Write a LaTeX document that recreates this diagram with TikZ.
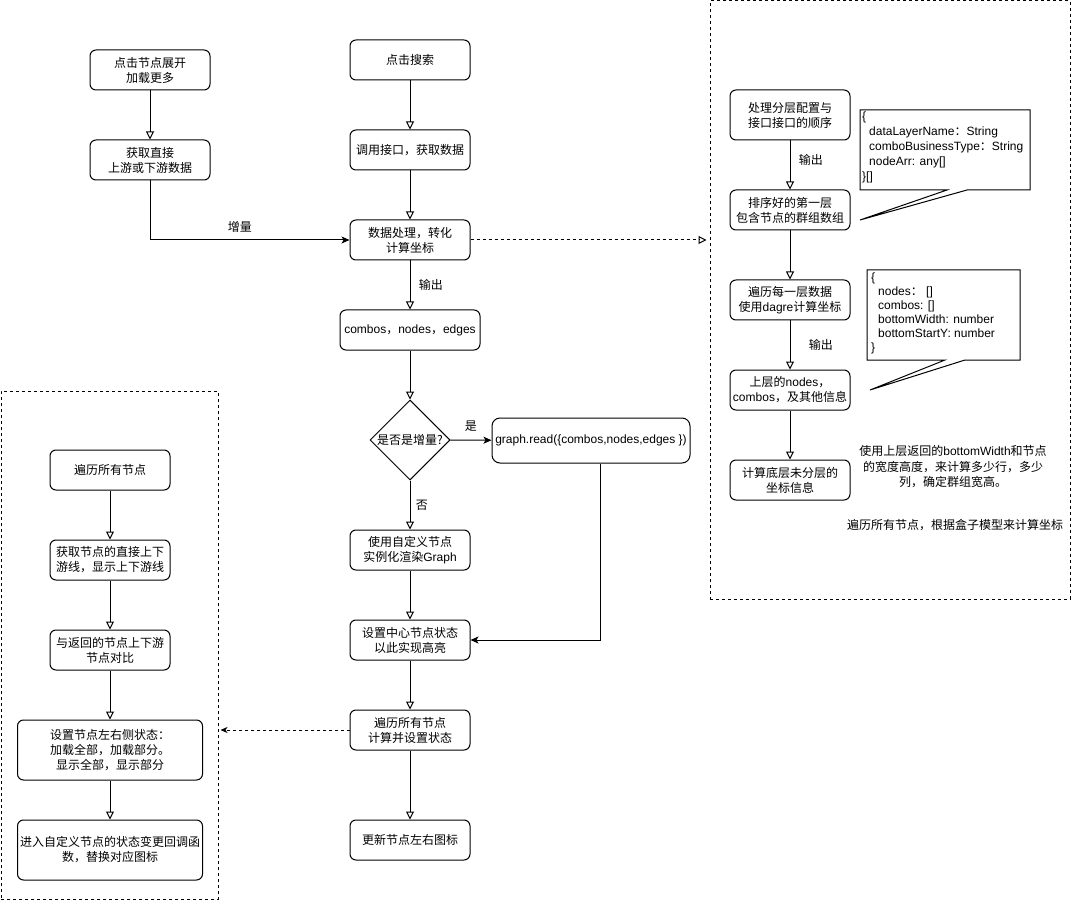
\documentclass[tikz,border=0pt]{standalone}
\usepackage{fontspec}
\setmainfont{Noto Sans CJK SC}
\newfontfamily\en{Liberation Sans}
\newfontfamily\zh{Noto Sans CJK SC}
\usetikzlibrary{arrows.meta,shapes.geometric}

\begin{document}
\begin{tikzpicture}[x=1pt, y=-1pt,
    every node/.style={font=\fontsize{12}{15}\selectfont},
    box/.style={draw, line width=1pt, rounded corners=6pt, minimum width=120pt, minimum height=40pt, align=center, inner sep=1pt},
    decision/.style={draw, diamond, line width=1pt, minimum width=80pt, minimum height=80pt, inner sep=0pt},
    group/.style={draw, line width=1pt, dash pattern=on 3pt off 3pt},
    flow/.style={line width=1pt, -{Triangle[open, length=8pt, width=8pt]}},
    link/.style={line width=1pt, -{Stealth[length=8pt, width=7pt, inset=2pt]}},
    hint/.style={line width=1pt, dash pattern=on 3pt off 3pt}]
    \useasboundingbox (0,0) rectangle (1071,901);

    \node[group, minimum width=217pt, minimum height=508pt] (lc) at (109.5,645) {};
    \node[group, minimum width=360pt, minimum height=598pt] (rc) at (890,300) {};

    \node[box] (e1) at (150,70) {点击节点展开\\加载更多};

    \node[box] (e2) at (150,160) {获取直接\\上游或下游数据};
    \draw[flow] (e1) -- (e2);

    \node[box] (s1) at (410,60) {点击搜索};

    \node[box] (s2) at (410,150) {调用接口，获取数据};
    \draw[flow] (s1) -- (s2);

    \node[box] (s3) at (410,240) {数据处理，转化\\计算坐标};
    \draw[flow] (s2) -- (s3);
    \draw[link] (e2) |- (s3) node[pos=0.725, above=4pt] {增量};

    \node[box, minimum width=140pt] (s4) at (410,330) {{\en combos}，{\en nodes}，{\en edges}};
    \draw[flow] (s3) -- (s4) node[midway, right=5pt] {输出};

    \node[decision] (d1) at (410,440) {};
    \node[inner sep=0pt] (d1t) at (d1.center) {是否是增量?};
    \draw[flow] (s4) -- (d1);

    \node[box, minimum width=198pt, minimum height=45pt, rounded corners=8pt] (g1) at (591,440.5) {{\en graph.read(\{combos,nodes,edges \})}};
    \draw[link] (d1) -- (g1) node[midway, above=5pt] {是};

    \node[box] (s5) at (410,550) {使用自定义节点\\实例化渲染{\en Graph}};
    \draw[flow] (d1) -- (s5) node[midway, right=2pt] {否};

    \node[box] (s6) at (410,640) {设置中心节点状态\\以此实现高亮};
    \draw[flow] (s5) -- (s6);
    \draw[link] (g1.south -| 600,0) |- (s6);

    \node[box] (s7) at (410,730) {遍历所有节点\\计算并设置状态};
    \draw[flow] (s6) -- (s7);
    \draw[hint, -{Stealth[length=7pt, width=6pt, inset=2pt]}] (s7) -- ([xshift=2pt]lc.east |- s7);
    \draw[hint, -{Triangle[open, length=8pt, width=8pt]}] (s3) -- ([xshift=-3pt]rc.west |- s3);

    \node[box] (s8) at (410,840) {更新节点左右图标};
    \draw[flow] (s7) -- (s8);

    % left group
    \node[box] (l1) at (110,470) {遍历所有节点};

    \node[box] (l2) at (110,560) {获取节点的直接上下\\游线，显示上下游线};
    \draw[flow] (l1) -- (l2);

    \node[box] (l3) at (110,650) {与返回的节点上下游\\节点对比};
    \draw[flow] (l2) -- (l3);

    \node[box, minimum width=185pt, minimum height=60pt] (l4) at (110,750) {设置节点左右侧状态：\\加载全部，加载部分。\\显示全部，显示部分};
    \draw[flow] (l3) -- (l4);

    \node[box, minimum width=185pt, minimum height=60pt] (l5) at (110,850) {进入自定义节点的状态变更回调函\\数，替换对应图标};
    \draw[flow] (l4) -- (l5);

    % right group
    \node[box, minimum height=50pt] (r1) at (790,115) {处理分层配置与\\接口接口的顺序};

    \node[box] (r2) at (790,210) {排序好的第一层\\包含节点的群组数组};
    \draw[flow] (r1) -- (r2) node[pos=0.4, right=5pt] {输出};

    \node[box] (r3) at (790,300) {遍历每一层数据\\使用{\en dagre}计算坐标};
    \draw[flow] (r2) -- (r3);

    \node[box] (r4) at (790,390) {上层的{\en nodes}，\\{\en combos}，及其他信息};
    \draw[flow] (r3) -- (r4) node[midway, right=15pt] {输出};

    \node[box] (r5) at (790,480) {计算底层未分层的\\坐标信息};
    \draw[flow] (r4) -- (r5);

    \draw[line width=1pt, fill=white] (860,110) -- (1030,110) -- (1030,190) -- (967,190) -- (860,220) -- (947,190) -- (860,190) -- cycle;
    \node[anchor=north west, align=left, inner sep=0pt, font=\en\fontsize{12}{15}\selectfont] (c1t) at (862,112)
      {\{\\\hspace*{7pt}dataLayerName{\zh：}String\\\hspace*{7pt}comboBusinessType{\zh：}String\\\hspace*{7pt}nodeArr: any[]\\\}[]};

    \draw[line width=1pt, fill=white] (867,270) -- (1020,270) -- (1020,360) -- (965,360) -- (870,390) -- (945,360) -- (867,360) -- cycle;
    \node[anchor=north west, align=left, inner sep=0pt, font=\en\fontsize{12}{14}\selectfont] (c2t) at (871,273)
      {\{\\\hspace*{7pt}nodes{\zh：} []\\\hspace*{7pt}combos: []\\\hspace*{7pt}bottomWidth: number\\\hspace*{7pt}bottomStartY: number\\\}};

    \node[align=center, font=\fontsize{12}{15.5}\selectfont] (n1) at (953,467) {使用上层返回的{\en bottomWidth}和节点\\的宽度高度，来计算多少行，多少\\列，确定群组宽高。};
    \node (n2) at (955,525) {遍历所有节点，根据盒子模型来计算坐标};
  \end{tikzpicture}
\end{document}
